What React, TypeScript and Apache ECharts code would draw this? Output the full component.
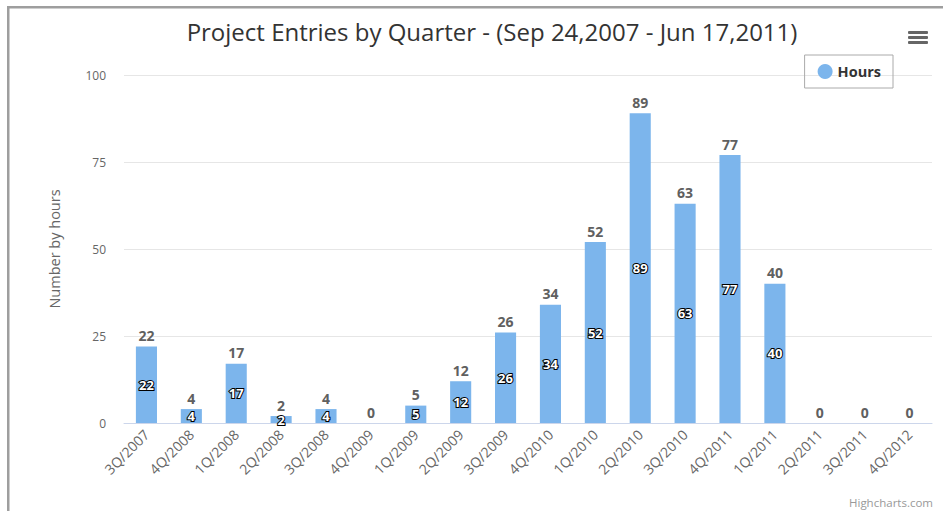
import React, { useEffect, useRef } from "react";
import * as echarts from "echarts";

const categories = [
  "3Q/2007", "4Q/2008", "1Q/2008", "2Q/2008", "3Q/2008", "4Q/2009",
  "1Q/2009", "2Q/2009", "3Q/2009", "4Q/2010", "1Q/2010", "2Q/2010",
  "3Q/2010", "4Q/2011", "1Q/2011", "2Q/2011", "3Q/2011", "4Q/2012",
];
const hours = [22, 4, 17, 2, 4, 0, 5, 12, 26, 34, 52, 89, 63, 77, 40, 0, 0, 0];
const yTicks = { min: 0, max: 100, interval: 25 };
const titleText = "Project Entries by Quarter - (Sep 24,2007 - Jun 17,2011)";
const seriesName = "Hours";
const yAxisName = "Number by hours";

const FONT = "'Open Sans', 'DejaVu Sans', sans-serif";

export default function App() {
  const ref = useRef<HTMLDivElement>(null);
  useEffect(() => {
    if (!ref.current) return;
    const chart = echarts.init(ref.current, null, { renderer: "svg" });
    chart.setOption({
      animation: false,
      textStyle: { fontFamily: FONT },
      title: {
        text: titleText,
        left: 487,
        textAlign: "center",
        top: 14,
        textStyle: { fontSize: 24, fontWeight: "normal", color: "#333", fontFamily: FONT },
      },
      legend: {
        data: [seriesName],
        right: 50,
        top: 55,
        padding: [9, 12, 9, 13],
        borderColor: "#aaa",
        borderWidth: 1,
        icon: "circle",
        itemWidth: 15,
        itemHeight: 15,
        itemGap: 6,
        textStyle: { fontSize: 14.5, fontWeight: "bold", color: "#333", fontFamily: FONT },
      },
      grid: { left: 124, right: 11, top: 75, bottom: 88, containLabel: false },
      xAxis: {
        type: "category",
        data: categories,
        axisLine: { lineStyle: { color: "#ccd6eb", width: 1 } },
        axisTick: { length: 10, lineStyle: { color: "#ccd6eb" } },
        axisLabel: { rotate: 45, color: "#666", fontSize: 14, margin: 9, interval: 0, fontFamily: FONT },
      },
      yAxis: {
        type: "value",
        min: yTicks.min,
        max: yTicks.max,
        interval: yTicks.interval,
        name: yAxisName,
        nameLocation: "middle",
        nameGap: 62,
        nameTextStyle: { color: "#666", fontSize: 14.5, fontFamily: FONT },
        axisLabel: { color: "#666", fontSize: 12, margin: 18, fontFamily: FONT },
        splitLine: { lineStyle: { color: "#e6e6e6" } },
        axisLine: { show: false },
        axisTick: { show: false },
      },
      series: [
        {
          name: seriesName,
          type: "bar",
          data: hours,
          barWidth: "47%",
          itemStyle: { color: "#7cb5ec" },
          label: {
            show: true,
            position: "inside",
            color: "#fff",
            fontWeight: "bold",
            fontSize: 13,
            textBorderColor: "#000",
            textBorderWidth: 2,
            fontFamily: FONT,
            formatter: (p: any) => (p.value === 0 ? "" : String(p.value)),
          },
        },
        {
          name: "labels",
          type: "bar",
          data: hours,
          barWidth: "47%",
          barGap: "-100%",
          silent: true,
          itemStyle: { color: "rgba(0,0,0,0)" },
          label: {
            show: true,
            position: "top",
            distance: 4,
            color: "#606060",
            fontWeight: "bold",
            fontSize: 14,
            fontFamily: FONT,
          },
        },
      ],
      graphic: [
        { type: "rect", shape: { x: 7, y: 6, width: 936, height: 2.5 }, style: { fill: "#9e9e9e" } },
        { type: "rect", shape: { x: 7, y: 6, width: 2.5, height: 505 }, style: { fill: "#9e9e9e" } },
        { type: "rect", shape: { x: 908, y: 31, width: 20, height: 3, r: 1 }, style: { fill: "#666" } },
        { type: "rect", shape: { x: 908, y: 36, width: 20, height: 3, r: 1 }, style: { fill: "#666" } },
        { type: "rect", shape: { x: 908, y: 41, width: 20, height: 3, r: 1 }, style: { fill: "#666" } },
        {
          type: "text",
          right: 10,
          bottom: 3,
          style: { text: "Highcharts.com", fill: "#999", fontSize: 11.5, fontFamily: FONT },
        },
      ],
    });
    return () => chart.dispose();
  }, []);
  return (
    <div
      ref={ref}
      style={{ position: "fixed", left: 0, top: 0, width: 943, height: 511, background: "#fff" }}
    />
  );
}
